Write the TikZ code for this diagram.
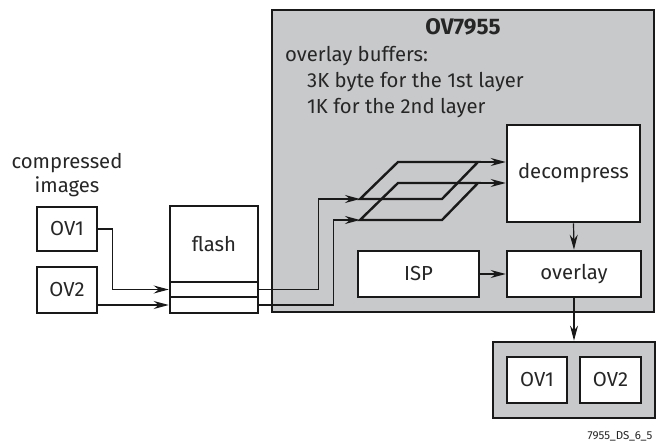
\documentclass[tikz,border=0pt]{standalone}
\usepackage{fontspec}
\setmainfont{Fira Sans}
\usetikzlibrary{arrows.meta}
\definecolor{ovgray}{RGB}{200,201,203}
\tikzset{
  box/.style={draw=black!90, line width=2.6pt, fill=white, minimum width=#1, inner sep=0pt},
  grp/.style={draw=black!90, line width=2.8pt, fill=ovgray, inner sep=0pt},
  conn/.style={draw=black!90, line width=1.2pt, -{Stealth[length=15pt,width=8pt,inset=5pt]}},
  para/.style={draw=black!90, line width=2.4pt, line join=miter},
  txt/.style={font=\fontsize{20.3}{24}\selectfont, inner sep=0pt, text=black!85}
}
\begin{document}
\begin{tikzpicture}[x=1pt,y=-1pt]
\useasboundingbox (0,0) rectangle (660,446);
% main chip
\node[grp, minimum width=382pt, minimum height=302pt] (chip) at (463,161) {};
\node[txt, font=\fontsize{22.5}{26}\selectfont\bfseries] (title) at (463,27) {OV7955};
\node[txt, anchor=west] (buf) at (285,56) {overlay buffers:};
\node[txt, anchor=west] (buf1) at (307,82) {3K byte for the 1st layer};
\node[txt, anchor=west] (buf2) at (307,108) {1K for the 2nd layer};
\node[box=133pt, minimum height=97pt, txt] (dec) at (573.5,173.5) {decompress};
\node[box=121pt, minimum height=46pt, txt] (isp) at (418.5,274) {ISP};
\node[box=134pt, minimum height=46pt, txt] (ovl) at (574,274) {overlay};
% output
\node[grp, minimum width=162pt, minimum height=76pt] (out) at (574,380) {};
\node[box=60pt, minimum height=46pt, txt] (o1) at (537,380) {OV1};
\node[box=61pt, minimum height=46pt, txt] (o2) at (610.5,380) {OV2};
% inputs
\node[txt, align=center] (comp) at (67,175) {compressed\\images};
\node[box=60pt, minimum height=44pt, txt] (i1) at (67,229) {OV1};
\node[box=60pt, minimum height=46pt, txt] (i2) at (67,290) {OV2};
\node[box=88pt, minimum height=76pt, txt] (fl) at (214,244) {flash};
\node[box=88pt, minimum height=15pt] (s1) at (214,289.5) {};
\node[box=88pt, minimum height=16pt] (s2) at (214,305) {};
% buffers (parallelograms)
\coordinate (p1bl) at (360,199);
\coordinate (p1br) at (442,199);
\coordinate (p1tr) at (478,162);
\coordinate (p1tl) at (398,162);
\coordinate (p2bl) at (360,220);
\coordinate (p2br) at (442,220);
\coordinate (p2tr) at (478,183);
\coordinate (p2tl) at (398,183);
\draw[para] (p1bl) -- (p1br) -- (p1tr) -- (p1tl) -- cycle;
\draw[para] (p2bl) -- (p2br) -- (p2tr) -- (p2tl) -- cycle;
% connectors
\draw[conn] (i1.east) -- ++(14,0) |- (s1.west);
\draw[conn] (i2.east |- s2.west) -- (s2.west);
\draw[conn] (s1.east) -- ++(59,0) |- (p1bl);
\draw[conn] (s2.east) -- ++(74,0) |- (p2bl);
\draw[conn] (p1tr) -- (dec.west |- p1tr);
\draw[conn] (p2tr) -- (dec.west |- p2tr);
\draw[conn] (dec.south) -- (ovl.north);
\draw[conn] (isp.east) -- (ovl.west);
\draw[conn] (ovl.south) -- (out.north);
\node[font=\fontsize{11.5}{13}\selectfont, text=black!85, inner sep=0pt] (lbl) at (620,436) {7955\_DS\_6\_5};
\end{tikzpicture}
\end{document}
